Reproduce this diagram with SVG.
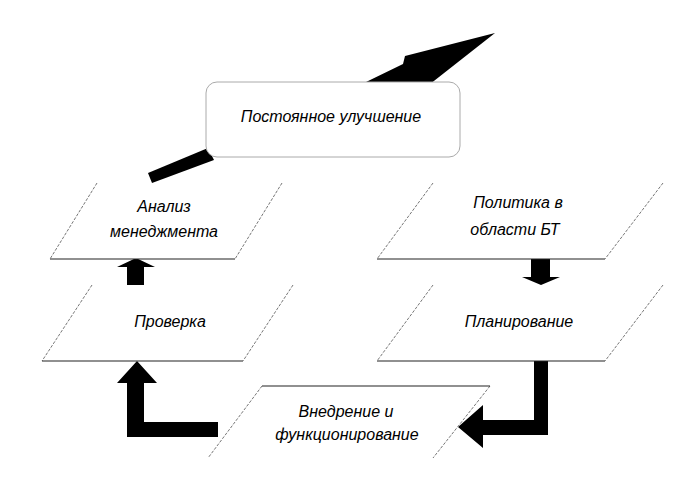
<svg xmlns="http://www.w3.org/2000/svg" width="689" height="477" viewBox="0 0 689 477">
<style>
.side{stroke:#777;stroke-width:1;stroke-dasharray:3 1.5;fill:none}
.edge{stroke:#222;stroke-width:1.2;fill:none}
.bg{fill:#fff;stroke:none}
.t{font-family:"Liberation Sans",Arial,sans-serif;font-style:italic;font-size:16px;fill:#000;text-anchor:middle}
.ar{fill:#000;stroke:none}
</style>
<rect width="689" height="477" fill="#fff"/>
<g id="connectors">
<polygon class="ar" points="329,100 403,64 405,56 495,33 425,88 413,82 345,118"/>
<polygon class="ar" points="148,173 208,148 214,160 152,183"/>
<polygon class="ar" points="127,285 127,267 117,267 136,258 155,267 144,267 144,285"/>
<polygon class="ar" points="531,259 550,259 550,277 560,277 541,285 522,277 531,277"/>
<polygon class="ar" points="218,422 144,422 144,383 157,383 137,361 117,383 127,383 127,437 218,437"/>
<polygon class="ar" points="534,361 548,361 548,435 483,435 483,448 458,427 483,405 483,420 534,420"/>
</g>
<g id="improve">
<rect x="206" y="82" width="254" height="75" rx="11" fill="#fff" stroke="#aaa" stroke-width="1"/>
<text class="t" x="331" y="122">Постоянное улучшение</text>
</g>
<g id="analysis">
<polygon class="bg" points="97,183 282,183 235,259 50,259"/>
<line class="side" x1="97" y1="183" x2="50" y2="259"/>
<line class="side" x1="282" y1="183" x2="235" y2="259"/>
<line class="edge" x1="50" y1="259" x2="235" y2="259"/>
<text class="t" x="164" y="212">Анализ</text>
<text class="t" x="164" y="237">менеджмента</text>
</g>
<g id="check">
<polygon class="bg" points="92,285 293,285 243,361 42,361"/>
<line class="side" x1="92" y1="285" x2="42" y2="361"/>
<line class="side" x1="293" y1="285" x2="243" y2="361"/>
<line class="edge" x1="42" y1="361" x2="243" y2="361"/>
<text class="t" x="170" y="327">Проверка</text>
</g>
<g id="policy">
<polygon class="bg" points="433,183 663,183 605,259 377,259"/>
<line class="side" x1="433" y1="183" x2="377" y2="259"/>
<line class="side" x1="663" y1="183" x2="605" y2="259"/>
<line class="edge" x1="377" y1="259" x2="605" y2="259"/>
<text class="t" x="518" y="208">Политика в</text>
<text class="t" x="515" y="235">области БТ</text>
</g>
<g id="planning">
<polygon class="bg" points="433,285 663,285 605,361 377,361"/>
<line class="side" x1="433" y1="285" x2="377" y2="361"/>
<line class="side" x1="663" y1="285" x2="605" y2="361"/>
<line class="edge" x1="377" y1="361" x2="605" y2="361"/>
<text class="t" x="519" y="327">Планирование</text>
</g>
<g id="implement">
<line class="side" x1="262" y1="386" x2="208" y2="458"/>
<line class="side" x1="490" y1="386" x2="433" y2="458"/>
<line class="edge" x1="262" y1="386" x2="490" y2="386"/>
<text class="t" x="346" y="417">Внедрение и</text>
<text class="t" x="347" y="440">функционирование</text>
</g>
</svg>
